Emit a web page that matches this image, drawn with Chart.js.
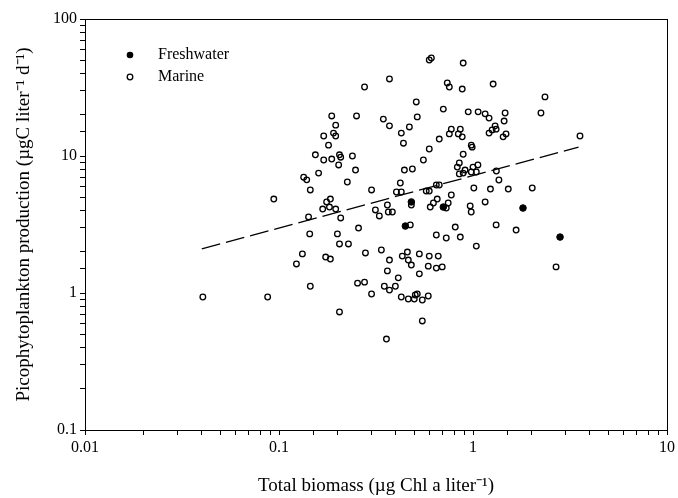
<!DOCTYPE html>
<html>
<head>
<meta charset="utf-8">
<script src="https://cdn.jsdelivr.net/npm/chart.js@4.4.1/dist/chart.umd.min.js"></script>
<style>
  html, body { margin: 0; padding: 0; background: #fff; }
</style>
</head>
<body>
<canvas id="chart" width="678" height="498"></canvas>
<script>
// values (log-log)
const marineX = [
  0.595, 0.61, 0.276, 0.371, 0.51, 0.187, 0.251, 0.345, 0.371, 0.516,
  0.47, 0.427, 0.438, 0.196, 0.191, 0.196, 0.17, 0.18, 0.154, 0.17,
  0.187, 0.205, 0.208, 0.203, 0.239, 0.248, 0.16, 0.134, 0.139, 0.145,
  0.225, 0.30, 0.443, 0.487, 0.555, 0.595, 0.422, 0.403, 0.427, 0.094,
  0.184, 0.574, 0.89, 0.737, 0.755, 0.88, 1.27, 2.35, 2.24, 0.703,
  0.945, 1.063, 1.155, 1.21, 1.464, 1.447, 1.30, 1.316, 1.255, 1.21,
  1.43, 1.48, 0.773, 0.755, 0.86, 0.84, 0.88, 0.67, 0.98, 0.99,
  0.89, 3.56, 0.85, 0.83, 0.91, 1.0, 1.06, 0.98, 1.04, 0.85,
  0.89, 1.32, 1.36, 0.647, 0.67, 0.595, 1.01, 1.23, 1.52, 2.02,
  0.773, 0.654, 0.176, 0.182, 0.168, 0.196, 0.142, 0.208, 0.144, 0.20,
  0.205, 0.228, 0.132, 0.123, 0.174, 0.184, 0.145, 0.0405, 0.0874, 0.205,
  0.362, 0.314, 0.329, 0.366, 0.384, 0.481, 0.625, 0.602, 0.745, 0.728,
  0.967, 0.979, 1.155, 0.475, 0.257, 0.81, 0.86, 0.728, 0.647, 1.316,
  1.668, 1.04, 0.279, 0.337, 0.459, 0.432, 0.464, 0.481, 0.529, 0.595,
  0.662, 0.371, 0.588, 0.647, 0.694, 0.362, 0.529, 0.412, 0.254, 0.276,
  0.349, 0.371, 0.398, 0.30, 0.427, 0.464, 0.498, 0.504, 0.516, 0.548,
  0.588, 0.548, 0.358, 2.68
];
const marineY = [
  50.2, 51.9, 31.9, 36.5, 24.8, 19.6, 19.6, 18.6, 16.6, 19.3,
  16.3, 14.7, 12.4, 16.8, 14.7, 14.0, 14.0, 12.0, 10.2, 9.35,
  9.5, 10.2, 9.8, 8.6, 10.0, 7.9, 7.5, 7.0, 6.7, 5.65,
  6.46, 5.65, 7.9, 8.04, 9.35, 11.25, 6.35, 5.46, 5.46, 4.85,
  4.85, 5.55, 47.7, 34.1, 31.9, 30.8, 33.5, 27.0, 20.6, 22.0,
  21.0, 21.0, 20.3, 18.9, 20.6, 18.0, 16.6, 15.7, 15.5, 14.7,
  13.8, 14.5, 15.7, 14.5, 15.7, 14.5, 13.8, 13.3, 12.0, 11.6,
  10.3, 14.0, 8.9, 8.3, 7.9, 8.3, 8.6, 7.64, 7.64, 7.4,
  7.5, 7.77, 6.68, 6.14, 6.14, 5.55, 5.84, 5.74, 5.74, 5.84,
  5.19, 4.85, 4.62, 4.24, 4.10, 4.10, 3.59, 3.53, 2.70, 2.70,
  2.28, 2.28, 1.93, 1.63, 1.83, 1.77, 1.12, 0.935, 0.935, 0.727,
  4.39, 4.04, 3.65, 3.90, 3.90, 4.39, 4.54, 4.24, 4.54, 4.17,
  4.32, 3.90, 4.62, 3.14, 2.98, 3.03, 2.56, 2.52, 2.65, 3.14,
  2.88, 2.20, 1.96, 2.06, 1.99, 1.86, 1.74, 1.60, 1.93, 1.86,
  1.86, 1.74, 1.57, 1.52, 1.55, 1.45, 1.38, 1.29, 1.18, 1.20,
  1.12, 1.05, 1.12, 0.983, 0.935, 0.904, 0.904, 0.967, 0.983, 0.889,
  0.951, 0.625, 0.461, 1.55
];
const freshX = [0.481, 0.703, 0.448, 1.81, 2.81];
const freshY = [4.62, 4.24, 3.08, 4.17, 2.56];
// regression line end points
const fitX = [0.04, 3.5];
const fitY = [2.1, 11.6];
const xTicks = [0.01, 0.1, 1, 10];
const yTicks = [0.1, 1, 10, 100];

const serif = "'Liberation Serif', 'Times New Roman', serif";

const toPoints = (xs, ys) => xs.map((x, i) => ({ x: x, y: ys[i] }));
const isLabelled = (list, v) => list.some((t) => Math.abs(t - v) / t < 1e-6);

// box around the plot and the in-plot legend
const framePlugin = {
  id: 'frame',
  afterDraw(chart) {
    const { ctx, chartArea: a } = chart;
    ctx.save();
    ctx.strokeStyle = '#000';
    ctx.lineWidth = 1;
    ctx.strokeRect(a.left + 0.5, a.top + 0.5, a.right - a.left, a.bottom - a.top);

    ctx.font = '16px ' + serif;
    ctx.textBaseline = 'middle';
    ctx.fillStyle = '#000';
    ctx.beginPath();
    ctx.arc(130, 55, 3.3, 0, Math.PI * 2);
    ctx.fill();
    ctx.fillText('Freshwater', 158, 55);
    ctx.beginPath();
    ctx.arc(130, 77, 2.8, 0, Math.PI * 2);
    ctx.lineWidth = 1.3;
    ctx.stroke();
    ctx.fillText('Marine', 158, 77);
    ctx.restore();
  }
};

new Chart(document.getElementById('chart'), {
  type: 'scatter',
  data: {
    datasets: [
      {
        label: 'Freshwater',
        data: toPoints(freshX, freshY),
        pointRadius: 3.3,
        pointBackgroundColor: '#000',
        pointBorderColor: '#000',
        pointBorderWidth: 1,
      },
      {
        label: 'Marine',
        data: toPoints(marineX, marineY),
        pointRadius: 2.8,
        pointBackgroundColor: 'rgba(0,0,0,0)',
        pointBorderColor: '#000',
        pointBorderWidth: 1.3,
      },
      {
        label: 'fit',
        type: 'line',
        data: toPoints(fitX, fitY),
        showLine: true,
        borderColor: '#000',
        borderWidth: 1.3,
        borderDash: [19, 6],
        pointRadius: 0,
        fill: false,
      },
    ],
  },
  options: {
    responsive: false,
    animation: false,
    layout: { padding: { top: 19, right: 10, left: 0, bottom: 0 } },
    plugins: {
      legend: { display: false },
      tooltip: { enabled: false },
    },
    scales: {
      x: {
        type: 'logarithmic',
        min: 0.01,
        max: 10,
        afterFit: (s) => { s.height = 68; },
        grid: { drawOnChartArea: false, drawTicks: true, tickLength: 5, color: '#000', tickColor: '#000' },
        border: { display: true, color: '#000', width: 1 },
        ticks: {
          autoSkip: false,
          maxRotation: 0,
          padding: 3,
          color: '#000',
          font: { family: serif, size: 16 },
          callback: (v) => (isLabelled(xTicks, v) ? String(v) : ''),
        },
        title: {
          display: true,
          text: 'Total biomass (\u00b5g Chl a liter\u207b\u00b9)',
          color: '#000',
          font: { family: serif, size: 19 },
          padding: { top: 0, bottom: 1 },
        },
      },
      y: {
        type: 'logarithmic',
        min: 0.1,
        max: 100,
        afterFit: (s) => { s.width = 85; },
        grid: { drawOnChartArea: false, drawTicks: true, tickLength: 5, color: '#000', tickColor: '#000' },
        border: { display: true, color: '#000', width: 1 },
        ticks: {
          autoSkip: false,
          padding: 3,
          color: '#000',
          font: { family: serif, size: 16 },
          callback: (v) => (isLabelled(yTicks, v) ? String(v) : ''),
        },
        title: {
          display: true,
          text: 'Picophytoplankton production (\u00b5gC liter\u207b\u00b9 d\u207b\u00b9)',
          color: '#000',
          font: { family: serif, size: 19 },
          padding: { top: 13, bottom: 0 },
        },
      },
    },
  },
  plugins: [framePlugin],
});
</script>
</body>
</html>
